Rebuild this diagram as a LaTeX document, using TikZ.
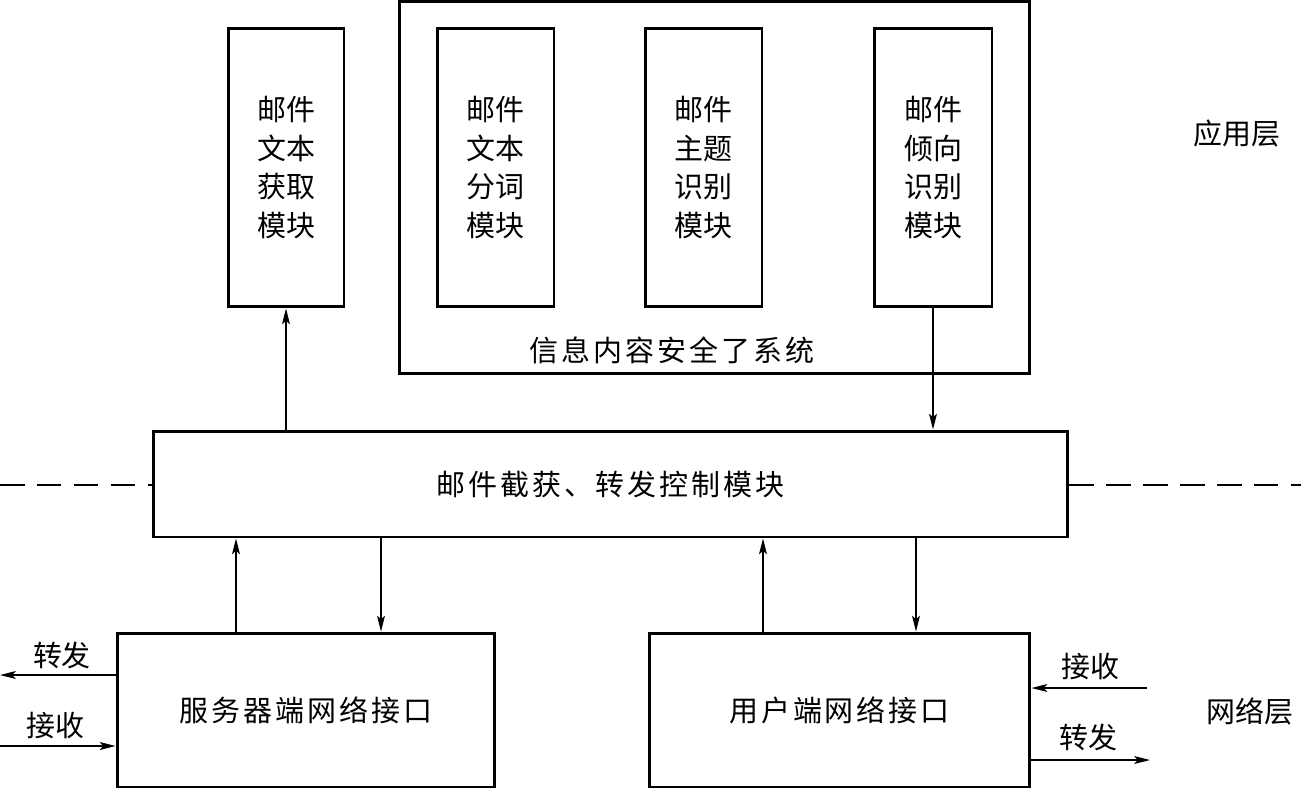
\documentclass[tikz,border=0pt]{standalone}
\usepackage{fontspec}
\setmainfont{Noto Sans CJK SC}
\newfontfamily\widecjk[LetterSpace=10]{Noto Sans CJK SC}
\usetikzlibrary{arrows.meta}
\begin{document}
\begin{tikzpicture}[x=0.02cm,y=-0.02cm,
  box/.style={draw,line width=1.7pt,inner sep=0pt,align=center,font=\fontsize{16.5pt}{22pt}\selectfont},
  widebox/.style={box,font=\widecjk\fontsize{16.5pt}{22pt}\selectfont},
  lbl/.style={inner sep=0pt,font=\fontsize{16.5pt}{22pt}\selectfont},
  arr/.style={line width=0.85pt,-{Stealth[length=9pt,width=4.5pt,inset=2pt]}},
  dash line/.style={line width=0.85pt,dash pattern=on 14pt off 7pt}]
\useasboundingbox (0,0) rectangle (1301,789);
\node[box,minimum width=12.62cm,minimum height=7.45cm] (sub) at (714.5,187.5) {};
\node[lbl,font=\widecjk\fontsize{16.5pt}{22pt}\selectfont] (sublbl) at (672,350) {信息内容安全了系统};
\node[box,minimum width=2.32cm,minimum height=5.58cm] (b1) at (286,167.5) {邮件\\文本\\获取\\模块};
\node[box,minimum width=2.34cm,minimum height=5.58cm] (b2) at (495.5,167.5) {邮件\\文本\\分词\\模块};
\node[box,minimum width=2.34cm,minimum height=5.58cm] (b3) at (703.5,167.5) {邮件\\主题\\识别\\模块};
\node[box,minimum width=2.36cm,minimum height=5.58cm] (b4) at (933,167.5) {邮件\\倾向\\识别\\模块};
\node[widebox,minimum width=18.3cm,minimum height=2.12cm] (mid) at (610.5,484) {邮件截获、转发控制模块};
\node[widebox,minimum width=7.56cm,minimum height=3.08cm] (bl) at (306,710) {服务器端网络接口};
\node[widebox,minimum width=7.62cm,minimum height=3.08cm] (br) at (839.5,710) {用户端网络接口};
\node[lbl] (app) at (1237,133) {应用层};
\node[lbl] (net) at (1250,711) {网络层};
% arrows top
\draw[arr] (mid.north -| b1.south) -- (b1.south);
\draw[arr] (b4.south) -- (mid.north -| b4.south);
% arrows bottom
\coordinate (xa) at (236,0);
\coordinate (xb) at (381,0);
\coordinate (xc) at (763,0);
\coordinate (xd) at (916,0);
\draw[arr] (bl.north -| xa) -- (mid.south -| xa);
\draw[arr] (mid.south -| xb) -- (bl.north -| xb);
\draw[arr] (br.north -| xc) -- (mid.south -| xc);
\draw[arr] (mid.south -| xd) -- (br.north -| xd);
% dashed
\coordinate (dl) at (0,485);
\coordinate (dr) at (1301,485);
\draw[dash line] (dl) -- (mid.west |- dl);
\draw[dash line] (mid.east |- dr) -- (dr);
% left side
\coordinate (lout) at (0,675);
\coordinate (lin) at (0,746);
\draw[arr] (bl.west |- lout) -- (lout);
\draw[arr] (lin) -- (bl.west |- lin);
\node[lbl] (lzf) at (62,655) {转发};
\node[lbl] (ljs) at (55,725) {接收};
% right side
\coordinate (rin) at (1147,688);
\coordinate (rout) at (1150,760);
\draw[arr] (rin) -- (br.east |- rin);
\draw[arr] (br.east |- rout) -- (rout);
\node[lbl] (rjs) at (1090,666) {接收};
\node[lbl] (rzf) at (1088,737) {转发};
\end{tikzpicture}
\end{document}
